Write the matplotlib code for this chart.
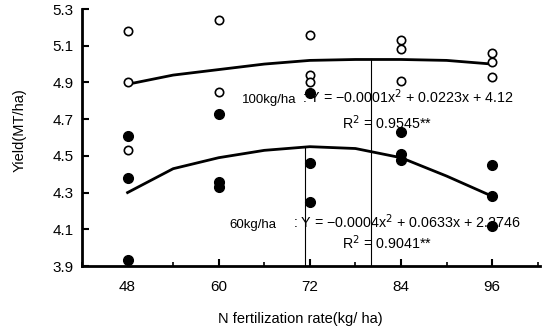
import matplotlib.pyplot as plt
import numpy as np

plt.rcParams['font.family'] = ['Liberation Sans', 'DejaVu Sans']

# observed yields, 100 kg/ha (open) and 60 kg/ha (filled)
x100 = [48, 48, 48, 60, 60, 72, 72, 72, 84, 84, 84, 96, 96, 96]
y100 = [5.18, 4.90, 4.53, 5.24, 4.85, 5.16, 4.94, 4.90, 5.13, 5.08, 4.91, 5.06, 5.01, 4.93]
x60 = [48, 48, 48, 60, 60, 60, 72, 72, 72, 84, 84, 84, 96, 96, 96]
y60 = [4.61, 4.38, 3.93, 4.73, 4.36, 4.33, 4.84, 4.46, 4.25, 4.63, 4.51, 4.48, 4.45, 4.28, 4.12]

# fitted curves as drawn
cx = [48, 54, 60, 66, 72, 78, 84, 90, 96]
c100 = [4.89, 4.94, 4.97, 5.00, 5.02, 5.025, 5.025, 5.02, 5.00]
c60 = [4.30, 4.43, 4.49, 4.53, 4.55, 4.54, 4.49, 4.39, 4.28]

# optimum N rate guide lines
opt_x = [71.3, 80.0]
opt_top = [4.55, 5.025]

fig = plt.figure(figsize=(5.43, 3.36), dpi=100)
ax = fig.add_axes([82/543, 1 - 266/336, 458/543, 257/336])

ax.plot(cx, c100, color='black', lw=2)
ax.plot(cx, c60, color='black', lw=2)
for xv, top in zip(opt_x, opt_top):
    ax.plot([xv, xv], [3.9, top], color='black', lw=0.8)

ax.plot(x100, y100, 'o', mfc='white', mec='black', mew=1.2, ms=6)
ax.plot(x60, y60, 'o', color='black', ms=7)

ax.set_xlim(42.1, 102.3)
ax.set_ylim(3.9, 5.3)
ax.set_xticks(np.arange(48, 97, 12))
ax.set_xticks(np.arange(42, 103, 6), minor=True)
ax.set_yticks(np.arange(3.9, 5.31, 0.2))
ax.set_yticklabels(['%.1f' % v for v in np.arange(3.9, 5.31, 0.2)])
ax.tick_params(axis='both', direction='in', length=5, width=1.5, labelsize=11, pad=6)
ax.tick_params(axis='x', pad=10)
ax.tick_params(axis='x', which='minor', direction='in', length=3, width=1.2)
for s in ['top', 'right']:
    ax.spines[s].set_visible(False)
for s in ['left', 'bottom']:
    ax.spines[s].set_linewidth(2)

ax.set_xlabel('N fertilization rate(kg/ ha)', fontsize=10.5)
ax.set_ylabel('Yield(MT/ha)', fontsize=10.5)
ax.xaxis.set_label_coords(0.476, -0.18)
ax.yaxis.set_label_coords(-0.12, 0.53)

def px(x, y):
    return x / 543, 1 - y / 336

fig.text(*px(242, 103), '100kg/ha', fontsize=9.5, ha='left', va='baseline')
fig.text(*px(302, 103), ': Y = \u22120.0001x$^2$ + 0.0223x + 4.12', fontsize=10.3, ha='left', va='baseline')
fig.text(*px(342, 129), 'R$^2$ = 0.9545**', fontsize=10.3, ha='left', va='baseline')
fig.text(*px(229, 228), '60kg/ha', fontsize=9.5, ha='left', va='baseline')
fig.text(*px(293, 228), ': Y = \u22120.0004x$^2$ + 0.0633x + 2.2746', fontsize=10.3, ha='left', va='baseline')
fig.text(*px(342, 249), 'R$^2$ = 0.9041**', fontsize=10.3, ha='left', va='baseline')

fig.savefig('out.png', dpi=100)
